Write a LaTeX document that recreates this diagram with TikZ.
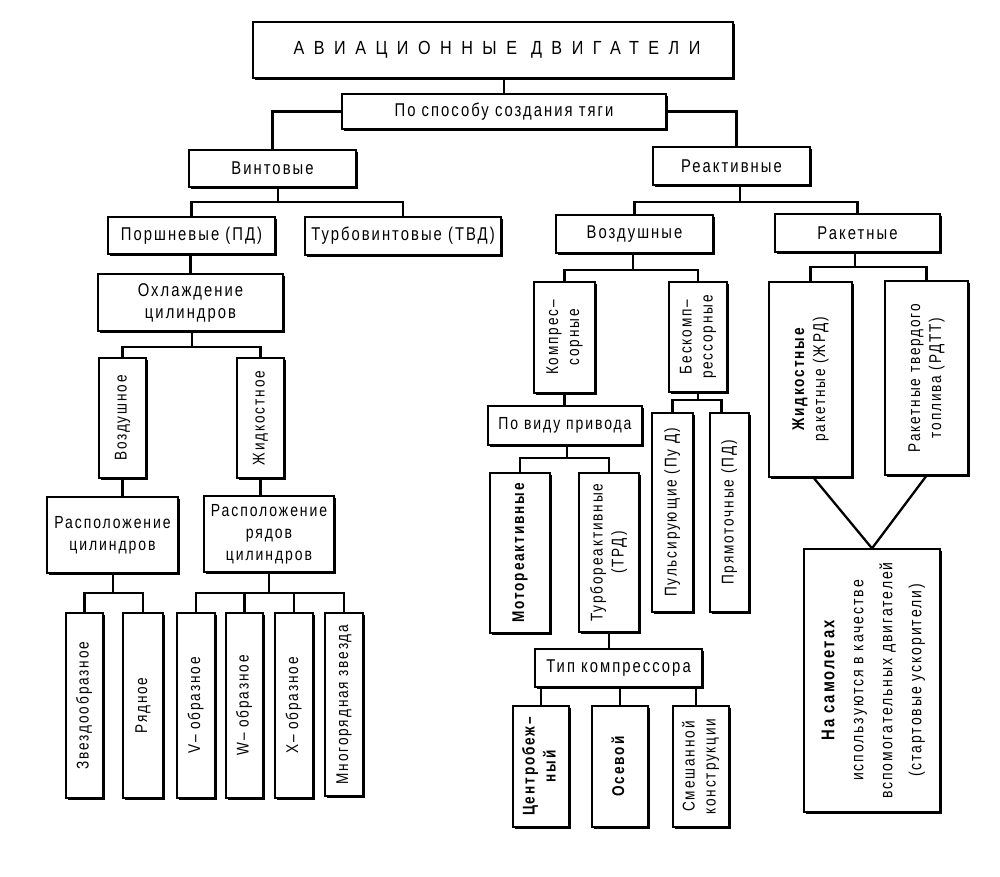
\documentclass[tikz,border=0pt]{standalone}
\usepackage{fontspec}
\usepackage{graphicx}
\setmainfont{Liberation Sans}[FakeStretch=0.8,LetterSpace=11]
\newfontfamily\titlefont{Liberation Sans}[FakeStretch=0.85,LetterSpace=50]
\usetikzlibrary{shadows}
\tikzset{
  box/.style={draw, line width=1.3pt, fill=white, inner sep=0pt, align=center,
    general shadow={fill=black, shadow xshift=2.2pt, shadow yshift=-2.2pt},
    font=\fontsize{18.5}{22}\selectfont},
  link/.style={line width=2.3pt},
  smalltext/.style={font=\fontsize{17.5}{22}\selectfont},
}
\newcommand\vt[1]{\rotatebox{90}{\fontsize{17}{21}\selectfont\begin{tabular}{@{}c@{}}#1\end{tabular}}}
\newcommand\B[7][]{%
  \pgfmathsetmacro\bxw{#5-#3}\pgfmathsetmacro\bxh{#6-#4}%
  \pgfmathsetmacro\bxcx{(#3+#5)/2}\pgfmathsetmacro\bxcy{(#4+#6)/2}%
  \node[box,minimum width=\bxw pt,minimum height=\bxh pt,#1] (#2) at (\bxcx,\bxcy) {#7};}
\begin{document}
\begin{tikzpicture}[x=1pt,y=-1pt]
\fill[white] (0,0) rectangle (1000,877);
\useasboundingbox (0,0) rectangle (1000,877);
% boxes
\B[font=\titlefont\fontsize{19}{22}\selectfont]{title}{253}{22}{733}{78}{\hspace*{8pt}АВИАЦИОННЫЕ\hspace{14pt}ДВИГАТЕЛИ}
\B{sposob}{342}{94}{666}{129}{По способу создания тяги}
\B{vint}{189}{150}{356}{187}{Винтовые}
\B{react}{653}{147}{810}{185}{Реактивные}
\B{porsh}{108}{217}{275}{254}{Поршневые (ПД)}
\B{turbov}{305}{217}{501}{255}{Турбовинтовые (ТВД)}
\B{vozd}{556}{215}{713}{253}{Воздушные}
\B{raket}{775}{214}{940}{252}{Ракетные}
\B{ohl}{98}{274}{283}{331}{Охлаждение\\цилиндров}
\B{vozdushnoe}{99}{358}{146}{478}{\vt{Воздушное}}
\B{zhidk}{237}{358}{284}{478}{\vt{Жидкостное}}
\B[smalltext]{raspcil}{47}{497}{178}{573}{Расположение\\цилиндров}
\B[smalltext]{rasprad}{204}{496}{334}{572}{Расположение\\рядов\\цилиндров}
\B{zvezd}{66}{613}{103}{798}{\vt{Звездообразное}}
\B{ryad}{123}{613}{163}{798}{\vt{Рядное}}
\B{vobr}{177}{613}{215}{798}{\vt{V– образное}}
\B{wobr}{226}{613}{263}{798}{\vt{W– образное}}
\B{xobr}{275}{613}{313}{798}{\vt{X– образное}}
\B{mnogo}{325}{613}{363}{796}{\vt{Многорядная звезда}}
\B{kompr}{534}{282}{595}{393}{\vt{Компрес–\\сорные}}
\B{beskompr}{669}{282}{727}{392}{\vt{Бескомп–\\рессорные}}
\B[smalltext]{privod}{488}{406}{642}{445}{По виду привода}
\B{pulse}{652}{413}{693}{612}{\vt{Пульсирующие (Пу Д)}}
\B{pryam}{710}{413}{749}{612}{\vt{Прямоточные (ПД)}}
\B{motor}{490}{473}{550}{633}{\vt{\bfseries Мотореактивные}}
\B{trd}{579}{473}{639}{632}{\vt{Турбореактивные\\(ТРД)}}
\B{tipk}{535}{649}{702}{687}{Тип компрессора}
\B{centr}{513}{706}{569}{827}{\vt{\bfseries Центробеж–\\\bfseries ный}}
\B{osev}{592}{706}{648}{827}{\vt{\bfseries Осевой}}
\B{smesh}{673}{706}{729}{827}{\vt{Смешанной\\конструкции}}
\B{zhrd}{769}{282}{852}{477}{\vt{\bfseries Жидкостные\\ракетные (ЖРД)}}
\B{rdtt}{885}{281}{968}{475}{\vt{Ракетные твердого\\топлива (РДТТ)}}
\B{bottom}{804}{549}{940}{812}{\rotatebox{90}{\fontsize{17.5}{29}\selectfont\begin{tabular}{@{}c@{}}{\fontsize{18.5}{29}\selectfont\bfseries На самолетах}\\используются в качестве\\вспомогательных двигателей\\(стартовые ускорители)\end{tabular}}}
% junctions
\coordinate (jv) at (278,202);
\coordinate (jr) at (740,202);
\coordinate (jo) at (192,347);
\coordinate (jvz) at (633,270);
\coordinate (jrk) at (855,267);
\coordinate (jrc) at (113,593);
\coordinate (jrr) at (269,593);
\coordinate (jp) at (567,458);
\coordinate (jb) at (698,400);
% connectors
\draw[link] (sposob.north) -- (sposob.north |- title.south);
\draw[link] (sposob.west) -| (vint.north);
\draw[link] (sposob.east) -| ([xshift=5pt]react.north);
\draw[link] (vint.south -| jv) -- (jv);
\draw[link] (porsh.north) |- (jv) -| (turbov.north);
\draw[link] (react.south -| jr) -- (jr);
\draw[link] (vozd.north) |- (jr) -| (raket.north);
\draw[link] (ohl.north) -- (ohl.north |- porsh.south);
\draw[link] (ohl.south -| jo) -- (jo);
\draw[link] (vozdushnoe.north) |- (jo) -| (zhidk.north);
\draw[link] (vozdushnoe.south) -- (vozdushnoe.south |- raspcil.north);
\draw[link] (zhidk.south) -- (zhidk.south |- rasprad.north);
\draw[link] (raspcil.south -| jrc) -- (jrc);
\draw[link] (zvezd.north) |- (jrc) -| (ryad.north);
\draw[link] (rasprad.south -| jrr) -- (jrr);
\draw[link] (vobr.north) |- (jrr) -| (mnogo.north);
\draw[link] (wobr.north) -- (wobr.north |- jrr);
\draw[link] (xobr.north) -- (xobr.north |- jrr);
\draw[link] (vozd.south -| jvz) -- (jvz);
\draw[link] (kompr.north) |- (jvz) -| (beskompr.north);
\draw[link] (raket.south -| jrk) -- (jrk);
\draw[link] (zhrd.north) |- (jrk) -| (rdtt.north);
\draw[link] (kompr.south) -- (kompr.south |- privod.north);
\draw[link] (privod.south -| jp) -- (jp);
\draw[link] (motor.north) |- (jp) -| (trd.north);
\draw[link] (beskompr.south -| jb) -- (jb);
\draw[link] (pulse.north) |- (jb) -| ([xshift=-8pt]pryam.north);
\draw[link] (trd.south) -- (trd.south |- tipk.north);
\draw[link] (centr.north) -- (centr.north |- tipk.south);
\draw[link] (osev.north) -- (osev.north |- tipk.south);
\draw[link] ([xshift=-5pt]smesh.north) -- ([xshift=-5pt]smesh.north |- tipk.south);
\draw[link] ([xshift=3pt]zhrd.south) -- (bottom.north);
\draw[link] (rdtt.south) -- (bottom.north);
\end{tikzpicture}
\end{document}
